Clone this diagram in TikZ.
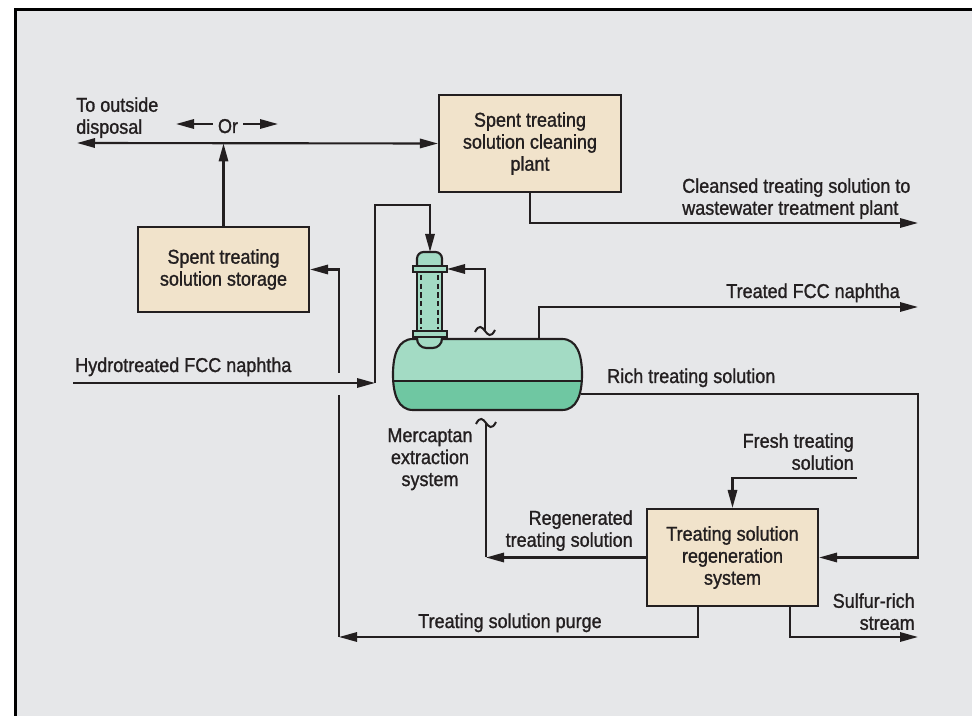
\documentclass[tikz,border=0pt]{standalone}
\usepackage{fontspec}
\setmainfont{Liberation Sans}[FakeStretch=0.9, FakeBold=1.2]
\usetikzlibrary{arrows.meta,calc}

\definecolor{bg}{HTML}{E6E7E9}
\definecolor{ink}{HTML}{231F20}
\definecolor{boxfill}{HTML}{F1E3CB}
\definecolor{liquidlight}{HTML}{A3DBC4}
\definecolor{liquiddark}{HTML}{6FC7A2}

% outline of the horizontal extraction drum
\newcommand\drumoutline{(413,339) -- (562,339)
  .. controls (577,339) and (582,355) .. (582,374.5)
  .. controls (582,394) and (577,410) .. (562,410)
  -- (413,410)
  .. controls (398,410) and (393,394) .. (393,374.5)
  .. controls (393,355) and (398,339) .. (413,339) -- cycle}

\begin{document}
\begin{tikzpicture}[x=0.75pt,y=-0.75pt,
  every node/.style={font=\fontsize{15pt}{16.5pt}\selectfont, text=ink, inner sep=0pt},
  >={Triangle[length=13.5pt,width=7pt]},
  pipe/.style={draw=ink, line width=1.6pt},
  flow/.style={pipe, ->},
  unitbox/.style={draw=ink, line width=1.6pt, fill=boxfill, align=center},
  vessel/.style={draw=ink, line width=1.6pt, fill=liquidlight},
  brk/.pic={\draw[ink, line width=1.5pt] (-10,1) .. controls (-6,-7) and (-3,-4) .. (0,0)
            .. controls (3,4) and (6,7) .. (10,-1);}
]
\useasboundingbox (0,0) rectangle (972,716);

% page and frame
\fill[white] (0,0) rectangle (972,716);
\fill[bg] (15,10) rectangle (972,716);
\draw[black, line width=2.25pt] (15,716) -- (15,10) -- (972,10);

% process units
\node[unitbox, minimum width=136.5pt, minimum height=72.75pt] (clean) at (530,143.5)
  {Spent treating\\solution cleaning\\plant};
\node[unitbox, minimum width=128.25pt, minimum height=63.75pt] (store) at (223.5,269.5)
  {Spent treating\\solution storage};
\node[unitbox, minimum width=128.25pt, minimum height=72.75pt] (regen) at (732.5,557.5)
  {Treating solution\\regeneration\\system};

% extraction drum
\begin{scope}
  \clip \drumoutline;
  \fill[liquidlight] (388,334) rectangle (587,381);
  \fill[liquiddark] (388,381) rectangle (587,415);
\end{scope}
\draw[pipe] (393,381) -- (582,381);
\draw[pipe] \drumoutline;

% settler column on top of the drum
\draw[vessel, rounded corners=7pt] (417,337) -- (417,348) -- (442,348) -- (442,337);
\draw[vessel, rounded corners=5pt] (417,266) -- (417,252) -- (442,252) -- (442,266);
\draw[vessel] (417,272) rectangle (442,331);
\draw[ink, line width=1.2pt, dash pattern=on 4pt off 2.5pt] (421,275) -- (421,329);
\draw[ink, line width=1.2pt, dash pattern=on 4pt off 2.5pt] (438,275) -- (438,329);
\draw[vessel] (413,266) rectangle (447,272);
\draw[vessel] (413,331) rectangle (447,337);

% connection points
\coordinate (colTop) at (430,252);
\coordinate (flangeR) at (447,269);
\coordinate (feedTop) at (430,205);
\coordinate (drumTop) at (539,339);
\coordinate (drumRich) at (581,394);
\coordinate (richTurn) at (918,394);
\coordinate (treatedEnd) at (918,307);
\coordinate (cleansedEnd) at (918,223);
\coordinate (disposalEnd) at (77,143);
\coordinate (hydroStart) at (73,383);
\coordinate (hydroCorner) at (375,383);
\coordinate (recycleBreak) at (485,331);
\coordinate (regenBreak) at (486,423);
\coordinate (freshStart) at (857,478);
\coordinate (purgeCorner) at (339,637);
\coordinate (gapLow) at (339,395);
\coordinate (gapHigh) at (339,373);
\coordinate (sulfurEnd) at (918,637);
\coordinate (orL) at (176,124);
\coordinate (orR) at (278,124);

% streams
\draw[pipe, <->] (disposalEnd) -- (clean.west);
\draw[flow] (store.north) -- (store.north |- clean.west);
\draw[flow] (clean.south) |- (cleansedEnd);
\draw[flow] (hydroStart) -- (hydroCorner);
\draw[flow] (hydroCorner) |- (feedTop) -- (colTop);
\draw[flow] (recycleBreak) |- (flangeR);
\pic at (recycleBreak) {brk};
\draw[flow] (drumTop) |- (treatedEnd);
\draw[flow] (drumRich) -- (richTurn) |- (regen.east);
\draw[flow] (freshStart) -| (regen.north);
\draw[flow] (regen.west) -- (regen.west -| regenBreak);
\draw[pipe] (regen.west -| regenBreak) -- (regenBreak);
\pic at (regenBreak) {brk};
\draw[flow] ([xshift=-25.9pt]regen.south) |- (purgeCorner);
\draw[pipe] (purgeCorner) -- (gapLow);
\draw[flow] (gapHigh) |- (store.east);
\draw[flow] ([xshift=43.1pt]regen.south) |- (sulfurEnd);

% "Or" marker
\node[anchor=base] (or) at (228,133) {Or};
\draw[flow] ($(or.west |- orL)+(-5,0)$) -- (orL);
\draw[flow] ($(or.east |- orR)+(5,0)$) -- (orR);

% stream labels
\node[anchor=north west, align=left] (tdisp) at (76,97) {To outside\\disposal};
\node[anchor=base west] (thydro) at (75,372) {Hydrotreated FCC naphtha};
\node[anchor=north west, align=left] (tclean) at (682,178) {Cleansed treating solution to\\wastewater treatment plant};
\node[anchor=base east] (ttreat) at (900,298) {Treated FCC naphtha};
\node[anchor=base west] (trich) at (607,383) {Rich treating solution};
\node[anchor=north, align=center] (tmerc) at (430,428) {Mercaptan\\extraction\\system};
\node[anchor=north east, align=right] (tfresh) at (854,433) {Fresh treating\\solution};
\node[anchor=north east, align=right] (tregen) at (633,510) {Regenerated\\treating solution};
\node[anchor=base] (tpurge) at (510,628) {Treating solution purge};
\node[anchor=north east, align=right] (tsulf) at (915,593) {Sulfur-rich\\stream};
\end{tikzpicture}
\end{document}
